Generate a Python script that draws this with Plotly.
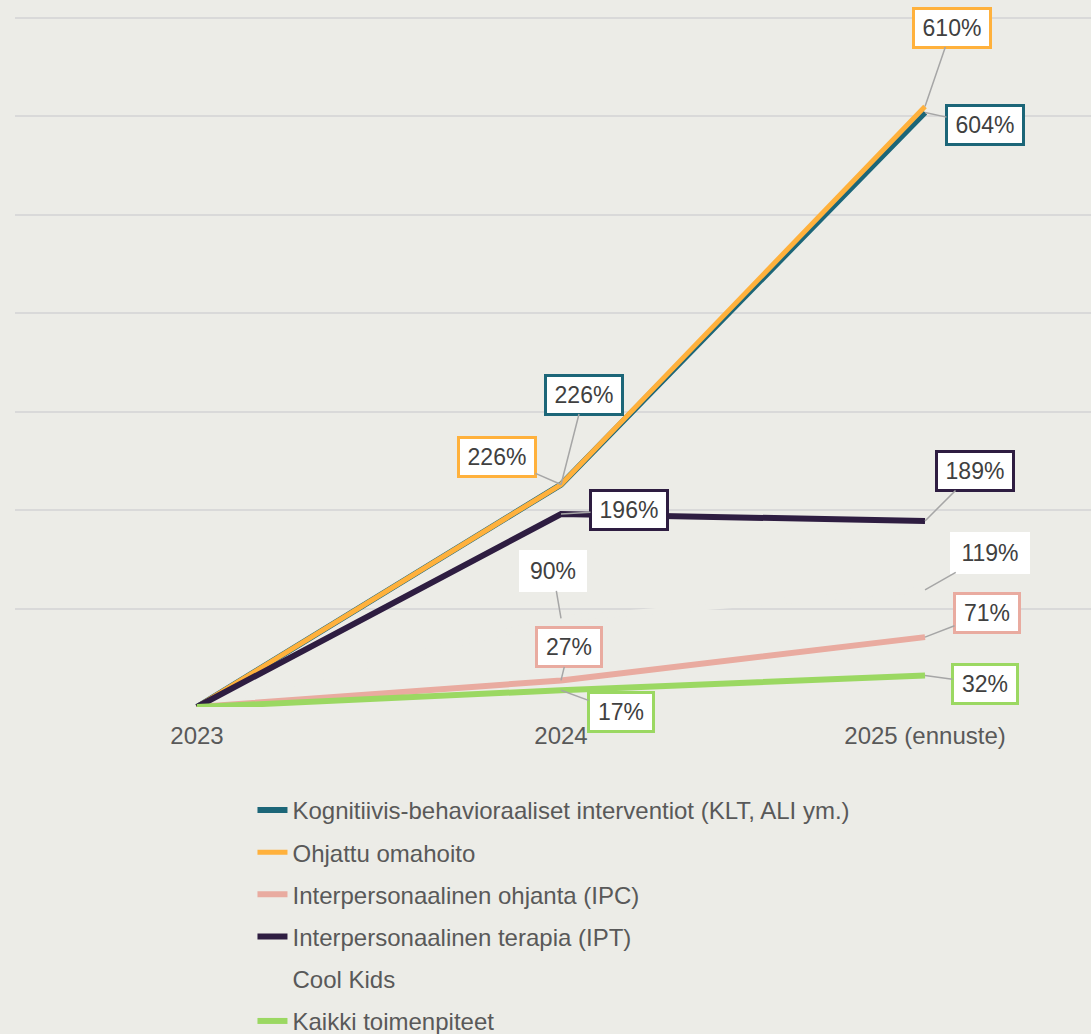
import plotly.graph_objects as go

years = ["2023", "2024", "2025 (ennuste)"]
series_names = [
    "Kognitiivis-behavioraaliset interventiot (KLT, ALI ym.)",
    "Ohjattu omahoito",
    "Interpersonaalinen ohjanta (IPC)",
    "Interpersonaalinen terapia (IPT)",
    "Cool Kids",
    "Kaikki toimenpiteet",
]
klt = [0, 226, 604]
omahoito = [0, 226, 610]
ipc = [0, 27, 71]
ipt = [0, 196, 189]
coolkids = [0, 90, 119]
kaikki = [0, 17, 32]

BG = "#ECECE7"
colors = ["#1C6678", "#FFB13C", "#E9ABA0", "#2E1D41", BG, "#9BD862"]
widths = [6, 5, 6, 6, 6, 6]
values = [klt, omahoito, ipc, ipt, coolkids, kaikki]

# label offsets (pixels) for 2024 and 2025 points, per series
offsets = [
    [(23, -90), (60, 13)],
    [(-64, -28), (27, -79)],
    [(8, -33), (62, -24)],
    [(68, -4), (50, -50)],
    [(-8, -47), (65, -37)],
    [(60, 22), (60, 8)],
]

fig = go.Figure()
draw_order = [4, 0, 1, 2, 3, 5]
for i in draw_order:
    fig.add_trace(go.Scatter(
        x=years, y=values[i], name=series_names[i], mode="lines",
        line=dict(color=colors[i], width=widths[i]),
        legendgroup=str(i), legendrank=i + 1, cliponaxis=False,
        hoverinfo="skip",
    ))

LBL = 23
annotations = []
for i in range(len(values)):
    border = "#FFFFFF" if values[i] is coolkids else colors[i]
    for j, k in enumerate([1, 2]):
        ax, ay = offsets[i][j]
        txt = f"{values[i][k]}%"
        tw = LBL * (0.556 * (len(txt) - 1) + 0.889)
        annotations.append(dict(
            x=k, y=values[i][k], xref="x", yref="y",
            text=txt, showarrow=True, arrowhead=0,
            arrowwidth=1.5, arrowcolor="#A6A6A6", ax=ax, ay=ay,
            bgcolor="#FFFFFF", bordercolor=border, borderwidth=3,
            borderpad=5, width=int(tw + 6),
            font=dict(size=LBL, color="#404040"),
        ))

fig.update_layout(
    width=1091, height=1034,
    paper_bgcolor=BG, plot_bgcolor=BG,
    margin=dict(l=15, r=0, t=16, b=327, autoexpand=False),
    font=dict(family="Liberation Sans, Arial, sans-serif", color="#595959", size=24),
    showlegend=True,
    legend=dict(
        orientation="v", x=0.2207, xanchor="left", y=-0.117, yanchor="top",
        font=dict(size=24, color="#595959"), tracegroupgap=8,
        bgcolor="rgba(0,0,0,0)",
    ),
    annotations=annotations,
)
fig.update_xaxes(
    type="category", range=[-0.5, 2.456], showgrid=False, zeroline=False,
    showline=False, ticks="", tickfont=dict(size=24, color="#595959"),
    ticklabelstandoff=12,
)
fig.update_yaxes(
    range=[0, 702], tickvals=[0, 100, 200, 300, 400, 500, 600, 700],
    showgrid=True, gridcolor="#D9D9D9",
    gridwidth=1.5, zeroline=False, showticklabels=False, showline=False,
)

fig.write_html("out.html", config={"displayModeBar": False},
               post_script="document.body.style.margin='0';")
